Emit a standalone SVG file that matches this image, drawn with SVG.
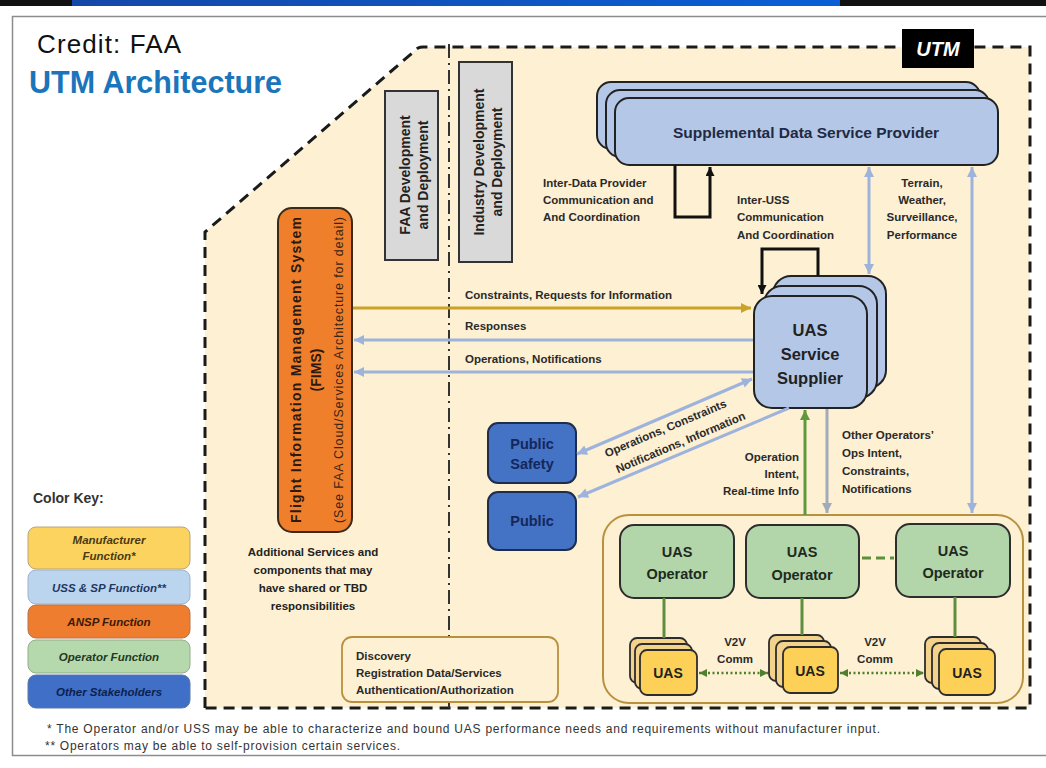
<svg xmlns="http://www.w3.org/2000/svg" width="1046" height="768" viewBox="0 0 1046 768">
<defs>
<linearGradient id="barGrad" x1="0" y1="0" x2="1" y2="0">
<stop offset="0" stop-color="#1448a8"/><stop offset="1" stop-color="#0a5fd6"/>
</linearGradient>
<marker id="aBlue" viewBox="0 0 10 10" refX="10" refY="5" markerWidth="11" markerHeight="10" markerUnits="userSpaceOnUse" orient="auto-start-reverse"><path d="M0,0 L10,5 L0,10 z" fill="#9db3dc"/></marker>
<marker id="aGold" viewBox="0 0 10 10" refX="10" refY="5" markerWidth="11" markerHeight="10" markerUnits="userSpaceOnUse" orient="auto-start-reverse"><path d="M0,0 L10,5 L0,10 z" fill="#c9a227"/></marker>
<marker id="aGreen" viewBox="0 0 10 10" refX="10" refY="5" markerWidth="11" markerHeight="10" markerUnits="userSpaceOnUse" orient="auto-start-reverse"><path d="M0,0 L10,5 L0,10 z" fill="#5e9a3c"/></marker>
<marker id="aGray" viewBox="0 0 10 10" refX="10" refY="5" markerWidth="11" markerHeight="10" markerUnits="userSpaceOnUse" orient="auto-start-reverse"><path d="M0,0 L10,5 L0,10 z" fill="#a4abb8"/></marker>
<marker id="aBlack" viewBox="0 0 10 10" refX="10" refY="5" markerWidth="10" markerHeight="9" markerUnits="userSpaceOnUse" orient="auto-start-reverse"><path d="M0,0 L10,5 L0,10 z" fill="#111"/></marker>
<marker id="aV2V" viewBox="0 0 10 10" refX="10" refY="5" markerWidth="8" markerHeight="8" markerUnits="userSpaceOnUse" orient="auto-start-reverse"><path d="M0,0 L10,5 L0,10 z" fill="#4f7f2f"/></marker>
</defs>
<style>
text{font-family:"Liberation Sans",Arial,sans-serif;}
.b{font-weight:bold;}
.lbl{font-size:11.5px;font-weight:bold;fill:#2a2a2a;}
.key{font-size:11.5px;font-weight:bold;font-style:italic;text-anchor:middle;}
.sdsp{fill:#b4c7e7;stroke:#222;stroke-width:2;}
.uss{fill:#b4c7e7;stroke:#222;stroke-width:2;}
.op{fill:#b3d5aa;stroke:#2d2d2d;stroke-width:2;}
.uasB{fill:#f3d28c;stroke:#2d2d2d;stroke-width:1.8;}
.uasF{fill:#fdd157;stroke:#2d2d2d;stroke-width:1.8;}
.pub{fill:#4472c4;stroke:#1f2d4d;stroke-width:2;}
.pubt{font-size:14.5px;font-weight:bold;fill:#14275a;text-anchor:middle;}
.optxt{font-size:14.5px;font-weight:bold;fill:#1e2a1e;text-anchor:middle;}
.uast{font-size:14px;font-weight:bold;fill:#222;text-anchor:middle;}
.gbox{fill:#d9d9d9;stroke:#333;stroke-width:2;}
.gtxt{font-size:14px;font-weight:bold;fill:#222;text-anchor:middle;}
.blue{stroke:#9db3dc;stroke-width:3;fill:none;}
</style>

<rect x="0" y="0" width="1046" height="768" fill="#ffffff"/>
<rect x="0" y="0" width="1046" height="6" fill="#111"/>
<rect x="72" y="0" width="768" height="6" fill="url(#barGrad)"/>
<rect x="12.5" y="16.5" width="1040" height="739" fill="#ffffff" stroke="#8c8c8c" stroke-width="1.5"/>

<text x="37" y="53" font-size="26" fill="#111" textLength="144">Credit: FAA</text>
<text x="29" y="93" font-size="30.5" class="b" fill="#1b75bb">UTM Architecture</text>

<g id="utm-region">
<path d="M205,708 L205,232 L418,48 Q420,47 423,47 L1030,47 L1030,708 Z" fill="#fdf0d3" stroke="none"/>
<path d="M205,708 L205,232 L418,48 Q420,47 423,47 L1030,47 L1030,708 Z" fill="none" stroke="#1a1a1a" stroke-width="3" stroke-dasharray="11 7"/>
<line x1="449" y1="44" x2="449" y2="712" stroke="#333" stroke-width="2" stroke-dasharray="14 5 2 5"/>
</g>
<g id="utm-label">
<rect x="902" y="29" width="72" height="39" fill="#000"/>
<text x="938" y="56" font-size="20" class="b" font-style="italic" fill="#fff" text-anchor="middle">UTM</text>
</g>

<g id="color-key">
<text x="33" y="503" font-size="14" class="b" fill="#333">Color Key:</text>
<rect x="28" y="527" width="162" height="42" rx="8" fill="#fcd35f" stroke="#b9a57a" stroke-width="1"/>
<text class="key" x="109" y="544" fill="#4a3a10">Manufacturer</text>
<text class="key" x="109" y="560" fill="#4a3a10">Function*</text>
<rect x="28" y="570" width="162" height="34" rx="8" fill="#bcd5ee" stroke="#9fb2c8" stroke-width="1"/>
<text class="key" x="109" y="592" fill="#1f3864">USS &amp; SP Function**</text>
<rect x="28" y="605" width="162" height="33" rx="8" fill="#ee7d30" stroke="#b4754a" stroke-width="1"/>
<text class="key" x="109" y="626" fill="#3a1a05">ANSP Function</text>
<rect x="28" y="640" width="162" height="33" rx="8" fill="#b5d8ac" stroke="#93ad8c" stroke-width="1"/>
<text class="key" x="109" y="661" fill="#1f3a1f">Operator Function</text>
<rect x="28" y="675" width="162" height="33" rx="8" fill="#3f6fc6" stroke="#5d79a8" stroke-width="1"/>
<text class="key" x="109" y="696" fill="#0d1f4d">Other Stakeholders</text>
</g>

<g id="faa-dev">
<rect class="gbox" x="385" y="91" width="53" height="169"/>
<g transform="translate(411.5,175) rotate(-90)">
<text class="gtxt" x="0" y="-2">FAA Development</text>
<text class="gtxt" x="0" y="16">and Deployment</text>
</g>
</g>
<g id="industry-dev">
<rect class="gbox" x="459" y="62" width="53" height="200"/>
<g transform="translate(485.5,162) rotate(-90)">
<text class="gtxt" x="0" y="-2">Industry Development</text>
<text class="gtxt" x="0" y="16">and Deployment</text>
</g>
</g>

<g id="fims">
<rect x="278" y="208" width="74" height="324" rx="14" fill="#f07f2c" stroke="#3a2a1a" stroke-width="2"/>
<g transform="translate(315,370) rotate(-90)">
<text x="0" y="-14" font-size="14" class="b" fill="#2a1a10" text-anchor="middle" textLength="306">Flight Information  Management System</text>
<text x="0" y="6" font-size="14" class="b" fill="#2a1a10" text-anchor="middle">(FIMS)</text>
<text x="0" y="28" font-size="12.5" fill="#3a2515" text-anchor="middle" textLength="306">(See FAA Cloud/Services Architecture for detail)</text>
</g>
</g>

<g id="additional-services">
<text x="313" y="556" font-size="11.5" class="b" fill="#222" text-anchor="middle">Additional Services and</text>
<text x="313" y="574" font-size="11.5" class="b" fill="#222" text-anchor="middle">components that may</text>
<text x="313" y="592" font-size="11.5" class="b" fill="#222" text-anchor="middle">have shared or TBD</text>
<text x="313" y="610" font-size="11.5" class="b" fill="#222" text-anchor="middle">responsibilities</text>
</g>

<g id="discovery">
<rect x="342" y="637" width="216" height="65" rx="10" fill="#fdf0d3" stroke="#b8913f" stroke-width="1.8"/>
<text class="lbl" x="356" y="660">Discovery</text>
<text class="lbl" x="356" y="677">Registration Data/Services</text>
<text class="lbl" x="356" y="694">Authentication/Authorization</text>
</g>

<g id="sdsp">
<rect class="sdsp" x="597" y="82" width="383" height="67" rx="14"/>
<rect class="sdsp" x="606" y="90" width="383" height="67" rx="14"/>
<rect class="sdsp" x="615" y="98" width="383" height="67" rx="14"/>
<text x="806" y="138" font-size="15.5" class="b" fill="#1f2a44" text-anchor="middle">Supplemental  Data Service  Provider</text>
</g>

<g id="uss">
<rect class="uss" x="773" y="276" width="113" height="112" rx="18"/>
<rect class="uss" x="764" y="286" width="113" height="112" rx="18"/>
<rect class="uss" x="754" y="296" width="113" height="112" rx="18"/>
<text x="810" y="336" font-size="16.5" class="b" fill="#222" text-anchor="middle">UAS</text>
<text x="810" y="360" font-size="16.5" class="b" fill="#222" text-anchor="middle">Service</text>
<text x="810" y="384" font-size="16.5" class="b" fill="#222" text-anchor="middle">Supplier</text>
</g>

<g id="public-safety">
<rect class="pub" x="488" y="423" width="88" height="60" rx="10"/>
<text class="pubt" x="532" y="449">Public</text>
<text class="pubt" x="532" y="469">Safety</text>
</g>
<g id="public">
<rect class="pub" x="488" y="492" width="88" height="58" rx="10"/>
<text class="pubt" x="532" y="526">Public</text>
</g>

<g id="operators">
<rect x="603" y="515" width="420" height="188" rx="26" fill="#fdf0d3" stroke="#b8913f" stroke-width="2"/>
<g id="op1">
<rect class="op" x="620" y="525" width="114" height="73" rx="14"/>
<text class="optxt" x="677" y="557">UAS</text>
<text class="optxt" x="677" y="579">Operator</text>
</g>
<g id="op2">
<rect class="op" x="746" y="525" width="113" height="73" rx="14"/>
<text class="optxt" x="802" y="557">UAS</text>
<text class="optxt" x="802" y="580">Operator</text>
</g>
<g id="op3">
<rect class="op" x="896" y="524" width="114" height="73" rx="14"/>
<text class="optxt" x="953" y="556">UAS</text>
<text class="optxt" x="953" y="578">Operator</text>
</g>
<g id="uas1">
<rect class="uasB" x="630" y="638" width="57" height="45" rx="7"/>
<rect class="uasB" x="635" y="644" width="57" height="45" rx="7"/>
<rect class="uasF" x="640" y="650" width="57" height="45" rx="7"/>
<text class="uast" x="668" y="678">UAS</text>
</g>
<g id="uas2">
<rect class="uasB" x="769" y="635" width="55" height="46" rx="7"/>
<rect class="uasB" x="776" y="641" width="55" height="46" rx="7"/>
<rect class="uasF" x="783" y="647" width="55" height="46" rx="7"/>
<text class="uast" x="810" y="676">UAS</text>
</g>
<g id="uas3">
<rect class="uasB" x="925" y="637" width="56" height="46" rx="7"/>
<rect class="uasB" x="932" y="643" width="56" height="46" rx="7"/>
<rect class="uasF" x="939" y="649" width="56" height="46" rx="7"/>
<text class="uast" x="967" y="678">UAS</text>
</g>
</g>

<g id="connectors">
<path d="M675,165 V217 H710 V167" fill="none" stroke="#111" stroke-width="3" marker-end="url(#aBlack)"/>
<path d="M818,276 V249 H762 V294" fill="none" stroke="#111" stroke-width="3" marker-end="url(#aBlack)"/>
<line x1="869" y1="167" x2="869" y2="274" class="blue" marker-start="url(#aBlue)" marker-end="url(#aBlue)"/>
<line x1="972" y1="167" x2="972" y2="513" class="blue" marker-start="url(#aBlue)" marker-end="url(#aBlue)"/>
<line x1="353" y1="308" x2="751" y2="308" stroke="#c9a227" stroke-width="3" marker-end="url(#aGold)"/>
<line x1="753" y1="340" x2="354" y2="340" class="blue" marker-end="url(#aBlue)"/>
<line x1="753" y1="372" x2="354" y2="372" class="blue" marker-end="url(#aBlue)"/>
<line x1="577" y1="454" x2="752" y2="379" class="blue" marker-start="url(#aBlue)" marker-end="url(#aBlue)"/>
<line x1="789" y1="408" x2="578" y2="497" class="blue" marker-end="url(#aBlue)"/>
<line x1="805" y1="515" x2="805" y2="410" stroke="#5e9a3c" stroke-width="3" marker-end="url(#aGreen)"/>
<line x1="827" y1="409" x2="827" y2="513" stroke="#a4abb8" stroke-width="3" marker-end="url(#aGray)"/>
<line x1="664" y1="598" x2="664" y2="638" stroke="#5e8f3e" stroke-width="3"/>
<line x1="802" y1="598" x2="802" y2="635" stroke="#5e8f3e" stroke-width="3"/>
<line x1="955" y1="597" x2="955" y2="637" stroke="#5e8f3e" stroke-width="3"/>
<line x1="862" y1="558" x2="894" y2="558" stroke="#5e8f3e" stroke-width="3" stroke-dasharray="9 5"/>
<line x1="699" y1="673" x2="768" y2="673" stroke="#4f7f2f" stroke-width="2.5" stroke-dasharray="2 2.5" marker-start="url(#aV2V)" marker-end="url(#aV2V)"/>
<line x1="840" y1="673" x2="924" y2="673" stroke="#4f7f2f" stroke-width="2.5" stroke-dasharray="2 2.5" marker-start="url(#aV2V)" marker-end="url(#aV2V)"/>
</g>

<g id="connector-labels">
<text class="lbl" x="543" y="187">Inter-Data Provider</text>
<text class="lbl" x="543" y="204">Communication and</text>
<text class="lbl" x="543" y="221">And Coordination</text>
<text class="lbl" x="737" y="204">Inter-USS</text>
<text class="lbl" x="737" y="221">Communication</text>
<text class="lbl" x="737" y="239">And Coordination</text>
<text class="lbl" x="922" y="187" text-anchor="middle">Terrain,</text>
<text class="lbl" x="922" y="204" text-anchor="middle">Weather,</text>
<text class="lbl" x="922" y="221" text-anchor="middle">Surveillance,</text>
<text class="lbl" x="922" y="239" text-anchor="middle">Performance</text>
<text class="lbl" x="465" y="299">Constraints, Requests for Information</text>
<text class="lbl" x="465" y="330">Responses</text>
<text class="lbl" x="465" y="363">Operations, Notifications</text>
<text class="lbl" transform="translate(667,432) rotate(-23)" text-anchor="middle">Operations, Constraints</text>
<text class="lbl" transform="translate(682,446) rotate(-23)" text-anchor="middle">Notifications, Information</text>
<text class="lbl" x="799" y="461" text-anchor="end">Operation</text>
<text class="lbl" x="799" y="478" text-anchor="end">Intent,</text>
<text class="lbl" x="799" y="495" text-anchor="end">Real-time Info</text>
<text class="lbl" x="842" y="439">Other Operators’</text>
<text class="lbl" x="842" y="457">Ops Intent,</text>
<text class="lbl" x="842" y="475">Constraints,</text>
<text class="lbl" x="842" y="493">Notifications</text>
<text class="lbl" x="735" y="646" text-anchor="middle">V2V</text>
<text class="lbl" x="735" y="663" text-anchor="middle">Comm</text>
<text class="lbl" x="875" y="646" text-anchor="middle">V2V</text>
<text class="lbl" x="875" y="663" text-anchor="middle">Comm</text>
</g>

<g id="footnotes">
<text x="47" y="733" font-size="12" fill="#333" textLength="833">*  The Operator and/or USS may be able to characterize and bound  UAS performance  needs and requirements  without manufacturer input.</text>
<text x="45" y="750" font-size="12" fill="#333" textLength="355">** Operators may be able to self-provision certain services.</text>
</g>
</svg>
